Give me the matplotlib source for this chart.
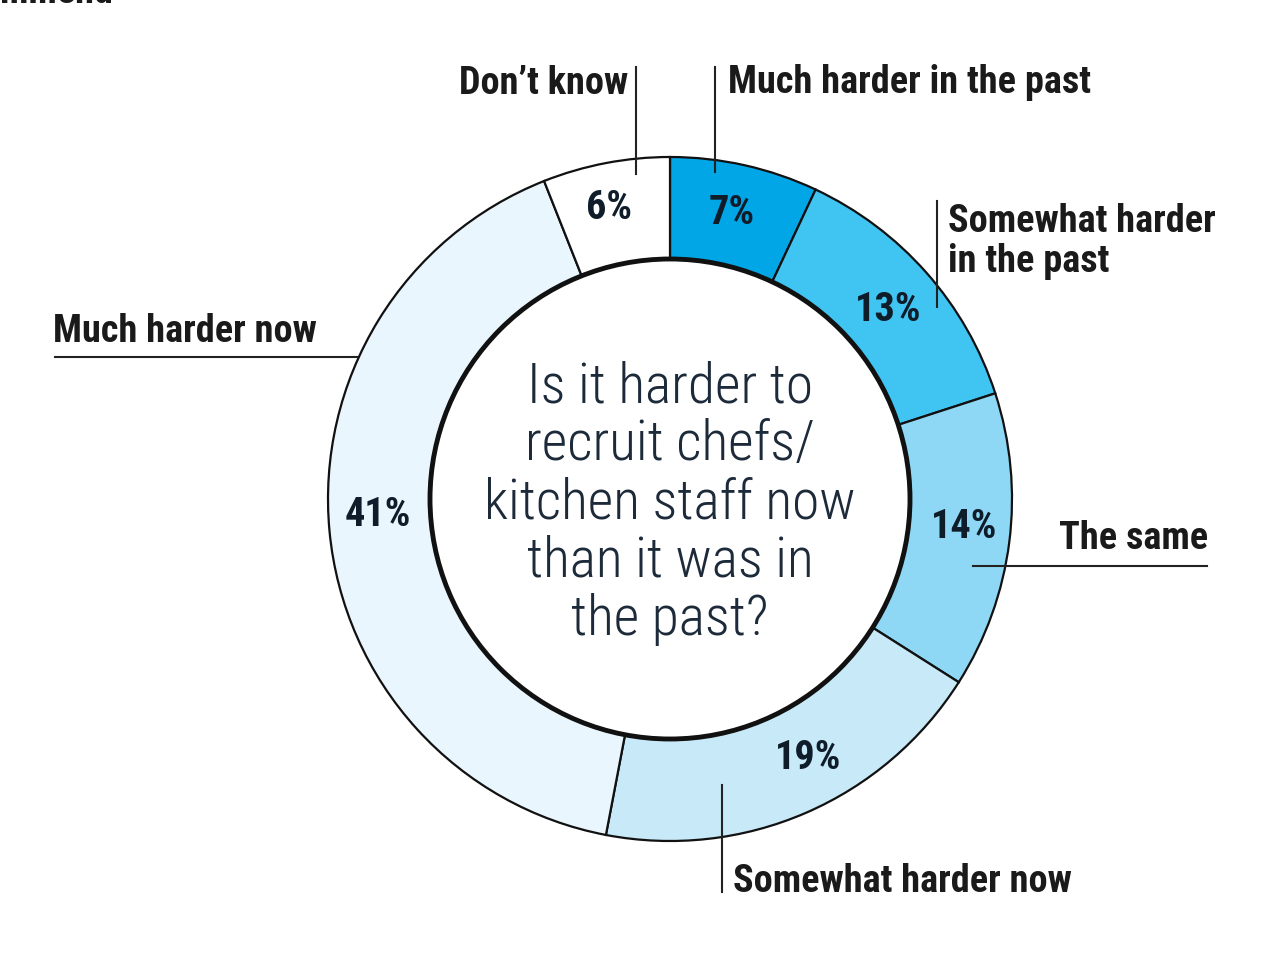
import matplotlib.pyplot as plt
from matplotlib.patches import Circle

# data
labels = ['Much harder in the past', 'Somewhat harder\nin the past', 'The same',
          'Somewhat harder now', 'Much harder now', 'Don\u2019t know']
values = [7, 13, 14, 19, 41, 6]
colors = ['#00a6e6', '#40c4f1', '#8fd8f5', '#c8e9f8', '#eaf6fd', '#ffffff']
question = 'Is it harder to\nrecruit chefs/\nkitchen staff now\nthan it was in\nthe past?'

W, H = 1281, 970
fams = ['Roboto Condensed', 'DejaVu Sans']
bold = dict(family=fams, stretch='condensed', weight='black', color='#1a1a1a')

fig = plt.figure(figsize=(W / 100, H / 100), dpi=100)
ax = fig.add_axes([0, 0, 1, 1])

cx, cy = 670, H - 500
R, r_in = 342, 240
wedges, _, pcts = ax.pie(values, colors=colors, startangle=90, counterclock=False,
                         center=(cx, cy), radius=R, autopct='%d%%', pctdistance=0.85,
                         wedgeprops=dict(width=R - r_in, edgecolor='#111111', linewidth=1.6),
                         textprops=dict(family=fams, stretch='condensed',
                                        weight='black', fontsize=29, color='#0f1c2a'))
# nudge the percentage labels to where the reference has them
pct_xy = [(732, 213), (888, 310), (964, 527), (808, 758), (378, 515), (609, 208)]
for t, (px, py) in zip(pcts, pct_xy):
    t.set_position((px, H - py))

ax.add_patch(Circle((cx, cy), r_in, facecolor='white', edgecolor='#111111', linewidth=3.5, zorder=3))
ax.text(cx, cy - 3, question, ha='center', va='center', fontsize=40, linespacing=1.12,
        family=fams, stretch='condensed', weight='light', color='#1c2a3a', zorder=4)

# leader lines (pixel coords from the top)
def line(x0, y0, x1, y1):
    ax.plot([x0, x1], [H - y0, H - y1], color='#222222', lw=1.5, zorder=5)

fs = 27.5
line(636, 68, 636, 175)
ax.text(628, H - 94, labels[5], ha='right', va='baseline', fontsize=fs, **bold)
line(715, 68, 715, 173)
ax.text(728, H - 93, labels[0], ha='left', va='baseline', fontsize=fs, **bold)
line(937, 202, 937, 308)
ax.text(948, H - 272, labels[1], ha='left', va='baseline', fontsize=fs, linespacing=1.12, **bold)
line(973, 567, 1207, 567)
ax.text(1208, H - 549, labels[2], ha='right', va='baseline', fontsize=fs, **bold)
line(722, 786, 722, 893)
ax.text(733, H - 892, labels[3], ha='left', va='baseline', fontsize=fs, **bold)
line(55, 358, 357, 358)
ax.text(53, H - 342, labels[4], ha='left', va='baseline', fontsize=fs, **bold)

# cut-off heading at the top edge
ax.text(0, H - 3, 'mmend', ha='left', va='baseline', fontsize=fs, **bold)

ax.set_xlim(0, W)
ax.set_ylim(0, H)
ax.set_aspect('equal')
ax.axis('off')
fig.savefig('out.png', dpi=100)
